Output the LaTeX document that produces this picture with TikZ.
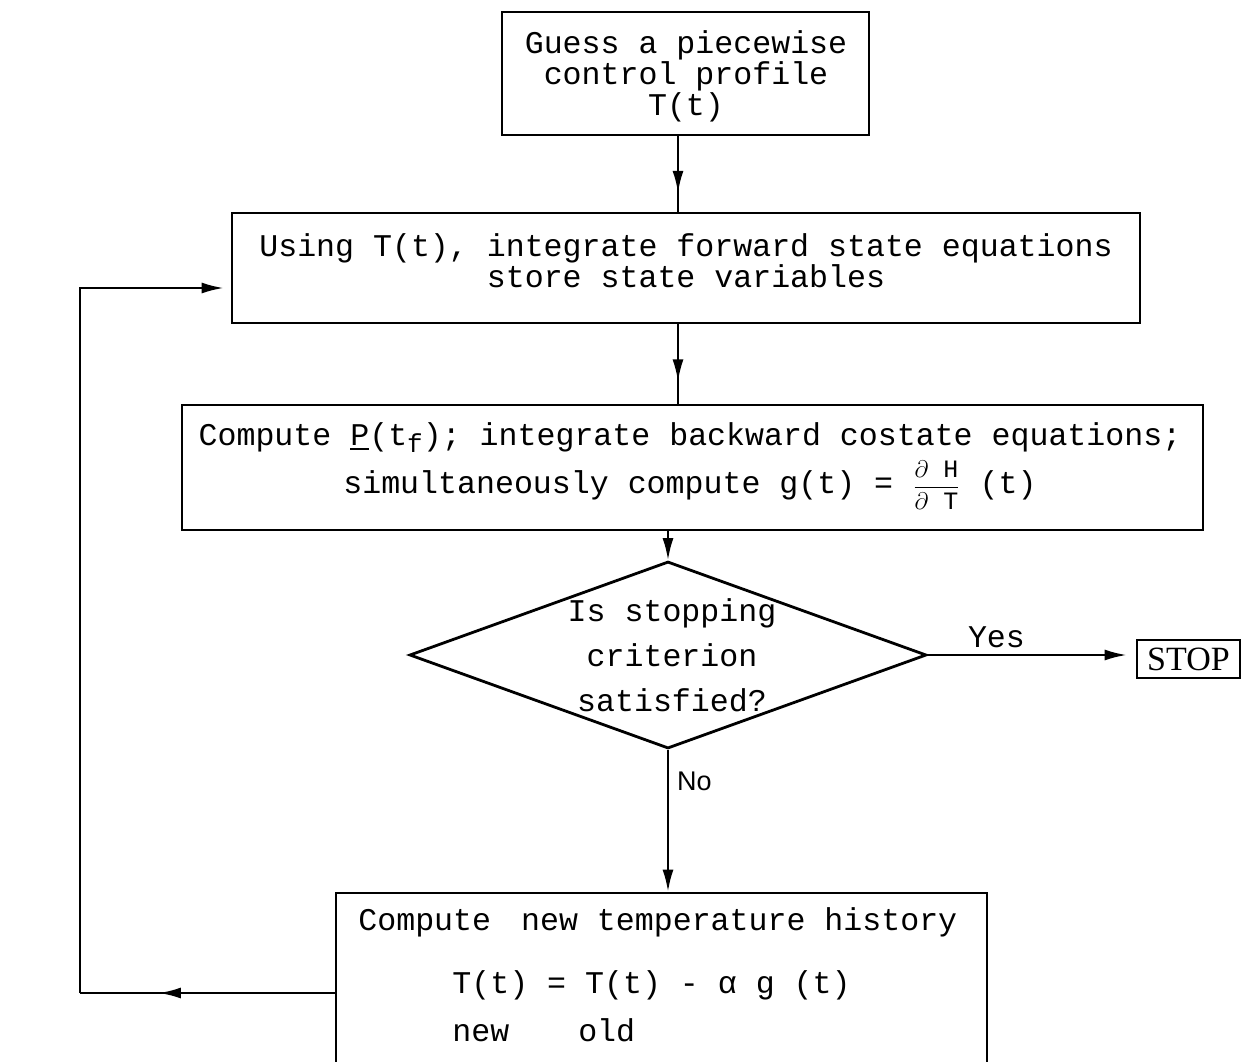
\documentclass[tikz,border=0pt]{standalone}
\usepackage{amsmath}
\usepackage{fontspec}
\setmainfont{Liberation Mono}
\newfontfamily\stopfont{Liberation Serif}
\newfontfamily\nofont{Liberation Sans}
\usetikzlibrary{shapes.geometric, arrows.meta, decorations.markings}
\begin{document}
\begin{tikzpicture}[x=0.5pt, y=-0.5pt,
  box/.style={draw, line width=1.4pt, inner sep=0pt},
  txt/.style={font=\fontsize{15.8}{15.5}\selectfont, align=center, inner sep=0pt},
  conn/.style={line width=1.1pt},
  tip/.style={-{Latex[length=11pt,width=5.5pt]}},
  midarrow/.style={postaction={decorate}, decoration={markings, mark=at position #1 with {\arrow{Latex[length=11pt,width=5.5pt]}}}}
]
\useasboundingbox[fill=white] (0,0) rectangle (1243,1061);

% boxes
\node[box, minimum width=183.5pt, minimum height=61.5pt] (b1) at (685.5,73.5) {};
\node[txt] (b1t) at (686,76) {Guess a piecewise\\control profile\\T(t)};
\node[box, minimum width=454pt, minimum height=55pt] (b2) at (686,268) {};
\node[txt] (b2t) at (686,261) {Using T(t), integrate forward state equations\\store state variables};
\node[box, minimum width=510.5pt, minimum height=62.5pt] (b3) at (692.5,467.5) {};
\node[txt] (b3t) at (690,466)
  {Compute \underline{P}(t\raisebox{-0.45ex}{\fontsize{13}{13}\selectfont f}); integrate backward costate equations;\\[3pt]
   simultaneously compute g(t) = {\fontsize{12.5}{12.5}\selectfont$\dfrac{\partial\ \text{H}}{\partial\ \text{T}}$} (t)};
\node[draw, line width=1.4pt, diamond, inner sep=0pt, minimum width=258.5pt, minimum height=93.5pt] (d) at (668,655) {};
\node[txt, font=\fontsize{15.8}{22.5}\selectfont] (dt) at (672,655) {Is stopping\\criterion\\satisfied?};
\node[box, minimum width=51.5pt, minimum height=19pt, font=\stopfont\fontsize{17}{17}\selectfont] (stop) at (1188.5,659) {STOP};
\node[box, minimum width=325.5pt, minimum height=103.5pt] (b5) at (661.5,996.5) {};
\node[txt, anchor=west] (t5a) at (358,922) {Compute\hspace{15pt}new temperature history};
\node[txt, anchor=west] (t5b) at (452,985) {T(t) = T(t) - α g (t)};
\node[txt, anchor=west] (t5c) at (452,1030) {new\hspace{34.5pt}old};

% connectors
\coordinate (cx) at (678,0);
\draw[conn, midarrow=0.75] (b1.south -| cx) -- (b2.north -| cx);
\draw[conn, midarrow=0.72] (b2.south -| cx) -- (b3.north -| cx);
\draw[conn, tip] (b3.south -| d.north) -- (d.north);
\draw[conn, tip, shorten >=4.5pt] (d.east) -- (d.east -| stop.west)
  node[pos=0.33, above=3pt, txt] (yes) {Yes};
\draw[conn, tip] (d.south) -- (d.south |- b5.north)
  node[pos=0.22, right=4pt, font=\nofont\fontsize{13.5}{13.5}\selectfont, inner sep=0pt] (no) {No};
\coordinate (c1) at (80,993);
\coordinate (c2) at (80,288);
\draw[conn, midarrow=0.69] (b5.west |- c1) -- (c1);
\draw[conn, tip, shorten >=3.5pt] (c1) -- (c2) -- (b2.west |- c2);
\end{tikzpicture}
\end{document}
